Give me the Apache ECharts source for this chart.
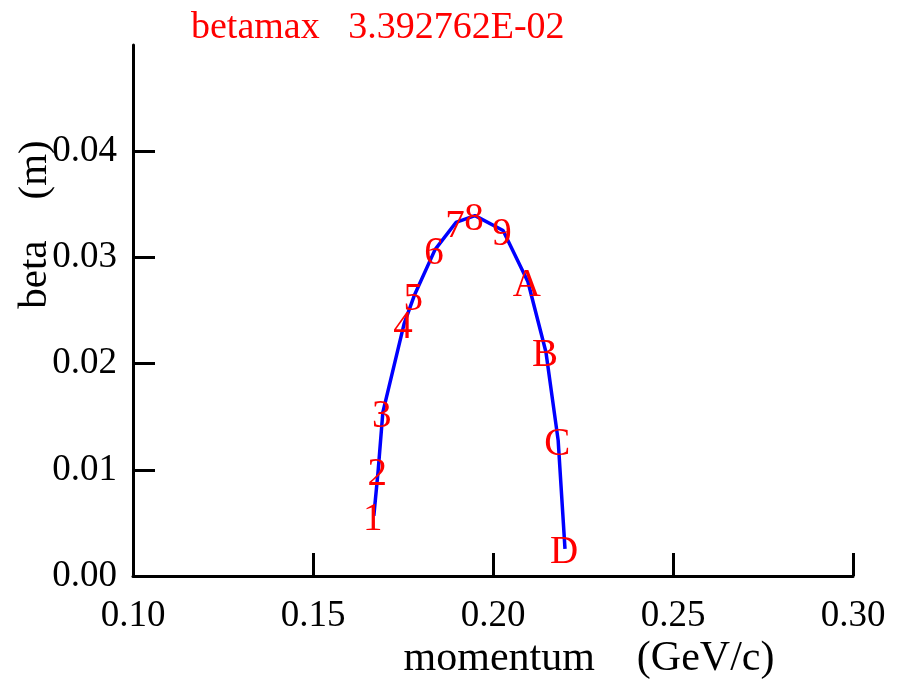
<!DOCTYPE html>
<html><head><meta charset="utf-8">
<script src="https://cdn.jsdelivr.net/npm/echarts@6/dist/echarts.min.js"></script>
<style>html,body{margin:0;padding:0;background:#fff}#c{width:898px;height:687px}</style>
</head><body><div id="c"></div>
<script>
const momentum = [0.1669, 0.1681, 0.1694, 0.1753, 0.1781, 0.1839, 0.1897, 0.1950, 0.2028, 0.2097, 0.2147, 0.2181, 0.2200];
const beta = [0.00567, 0.00993, 0.01541, 0.02374, 0.02638, 0.03073, 0.03329, 0.03393, 0.03253, 0.02771, 0.02109, 0.01277, 0.00255];
const pointLabels = ['1','2','3','4','5','6','7','8','9','A','B','C','D'];
const xTickValues = [0.15, 0.20, 0.25, 0.30];
const xLabelValues = [0.10, 0.15, 0.20, 0.25, 0.30];
const yTickValues = [0.00, 0.01, 0.02, 0.03, 0.04];
const titleText = 'betamax   3.392762E-02';

const FONT = 'Liberation Serif';
const pts = momentum.map((x, i) => [x, beta[i]]);
const chart = echarts.init(document.getElementById('c'), null, {renderer: 'canvas'});
chart.setOption({
  animation: false,
  backgroundColor: '#ffffff',
  title: {
    text: titleText, left: 186, top: 4,
    textStyle: {color: '#ff0000', fontFamily: FONT, fontSize: 38, fontWeight: 'normal'}
  },
  grid: {left: 133, right: 45, top: 45, bottom: 111, containLabel: false, outerBoundsMode: 'none'},
  xAxis: {
    type: 'value', min: 0.10, max: 0.30, interval: 0.05,
    name: 'momentum    (GeV/c)', nameLocation: 'middle', nameGap: 62, nameMoveOverlap: false,
    nameTextStyle: {fontFamily: FONT, fontSize: 42, color: '#000', padding: [0, 0, 0, 192]},
    axisLine: {show: true, onZero: false, lineStyle: {color: '#000', width: 3}},
    axisTick: {show: true, inside: true, length: 23, lineStyle: {color: '#000', width: 3}, customValues: xTickValues},
    axisLabel: {fontFamily: FONT, fontSize: 37, color: '#000', margin: 22,
      customValues: xLabelValues, formatter: v => v.toFixed(2)},
    splitLine: {show: false}
  },
  yAxis: {
    type: 'value', min: 0, max: 0.05, interval: 0.01,
    name: 'beta    (m)', nameLocation: 'middle', nameGap: 77, nameRotate: 90, nameMoveOverlap: false,
    nameTextStyle: {fontFamily: FONT, fontSize: 41, color: '#000', padding: [0, 0, 0, 172]},
    axisLine: {show: true, onZero: false, lineStyle: {color: '#000', width: 3}},
    axisTick: {show: true, inside: true, length: 22, lineStyle: {color: '#000', width: 3}, customValues: yTickValues},
    axisLabel: {fontFamily: FONT, fontSize: 37, color: '#000', margin: 16,
      customValues: yTickValues, formatter: v => v.toFixed(2)},
    splitLine: {show: false}
  },
  series: [
    {
      type: 'line', data: pts, symbol: 'none', smooth: false,
      lineStyle: {color: '#0000ff', width: 3.5}, z: 2
    },
    {
      type: 'scatter', symbolSize: 1, itemStyle: {color: 'rgba(0,0,0,0)', opacity: 1}, z: 3,
      data: pts.map((p, i) => ({value: p, name: pointLabels[i]})),
      label: {show: true, position: 'inside', formatter: p => p.name, opacity: 1, offset: [-1, 4],
        fontFamily: FONT, fontSize: 39, color: '#ff0000'}
    }
  ]
});
</script>
</body></html>
